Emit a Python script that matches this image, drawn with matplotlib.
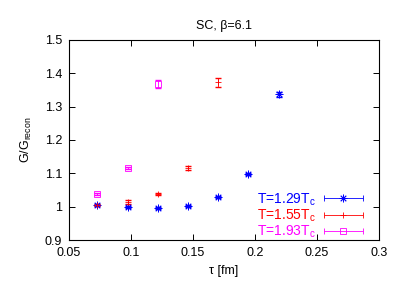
import matplotlib
matplotlib.use("Agg")
import numpy as np
import matplotlib.pyplot as plt
from matplotlib.container import ErrorbarContainer
from matplotlib.legend_handler import HandlerErrorbar

plt.rcParams['font.family'] = ['Liberation Sans', 'DejaVu Sans']
plt.rcParams['mathtext.fontset'] = 'custom'
plt.rcParams['mathtext.rm'] = 'Liberation Sans'

# tau values [fm]
tau_129 = [0.0723, 0.0973, 0.1216, 0.1460, 0.1703, 0.1946, 0.2190]
g_129 = [1.005, 1.000, 0.996, 1.003, 1.028, 1.098, 1.337]
e_129 = [0.003, 0.003, 0.003, 0.003, 0.003, 0.004, 0.007]

tau_155 = [0.0723, 0.0973, 0.1216, 0.1460, 0.1703]
g_155 = [1.006, 1.013, 1.038, 1.116, 1.373]
e_155 = [0.003, 0.006, 0.004, 0.006, 0.014]

tau_193 = [0.0723, 0.0973, 0.1216]
g_193 = [1.037, 1.116, 1.369]
e_193 = [0.003, 0.004, 0.012]

labels = [r'T=1.29T$_\mathrm{c}$', r'T=1.55T$_\mathrm{c}$', r'T=1.93T$_\mathrm{c}$']
colors = ['#0000ff', '#ff0000', '#ff00ff']

fig = plt.figure(figsize=(4.02, 2.81), dpi=100)
ax = fig.add_axes([0.1716, 0.1459, 0.7712, 0.7118])

ax.errorbar(tau_129, g_129, yerr=e_129, fmt='none', ecolor=colors[0], elinewidth=0.6, capsize=2)
ax.errorbar(tau_155, g_155, yerr=e_155, fmt='none', ecolor=colors[1], elinewidth=0.6, capsize=2)
ax.errorbar(tau_193, g_193, yerr=e_193, fmt='none', ecolor=colors[2], elinewidth=0.6, capsize=2)
ax.plot(tau_129, g_129, ls='none', marker=(8, 2, 0), color=colors[0], ms=5.5, mew=0.6)
ax.plot(tau_155, g_155, ls='none', marker='+', color=colors[1], ms=5, mew=0.6)
ax.plot(tau_193, g_193, ls='none', marker='s', color=colors[2], ms=5, mew=0.6, mfc='none')

# legend samples (gnuplot style: horizontal bar with end ticks, point in the middle)
markers = [dict(marker=(8, 2, 0), ms=5.5), dict(marker='+', ms=5), dict(marker='s', ms=5, mfc='none')]
handles = []
for c, m in zip(colors, markers):
    h = ax.errorbar([np.nan], [np.nan], xerr=[0.01], ls='none', color=c, ecolor=c,
                    elinewidth=0.6, capsize=2, mew=0.6, **m)
    handles.append(h)

ax.set_xlim(0.05, 0.3)
ax.set_ylim(0.9, 1.5)
ax.set_xticks([0.05, 0.1, 0.15, 0.2, 0.25, 0.3])
ax.set_xticklabels(['0.05', '0.1', '0.15', '0.2', '0.25', '0.3'])
ax.set_yticks([0.9, 1.0, 1.1, 1.2, 1.3, 1.4, 1.5])
ax.set_yticklabels(['0.9', '1', '1.1', '1.2', '1.3', '1.4', '1.5'])
ax.tick_params(direction='in', top=True, right=True, labelsize=9, length=4, width=0.7, pad=5)
for s in ax.spines.values():
    s.set_linewidth(0.8)

ax.set_title(u'SC, \u03b2=6.1', fontsize=9, pad=8)
ax.set_xlabel(u'\u03c4 [fm]', fontsize=9, labelpad=4)
ax.set_ylabel(r'G/G$_\mathrm{recon}$', fontsize=9, labelpad=8)

leg = ax.legend(handles, labels, loc='lower right', frameon=False, markerfirst=False,
                fontsize=10, handlelength=2.8, handletextpad=0.6, labelspacing=0.0,
                borderaxespad=0.0, bbox_to_anchor=(0.965, -0.03),
                handler_map={ErrorbarContainer: HandlerErrorbar(xerr_size=1.4)})
for txt, c in zip(leg.get_texts(), colors):
    txt.set_color(c)

fig.savefig('out.png', dpi=100)
